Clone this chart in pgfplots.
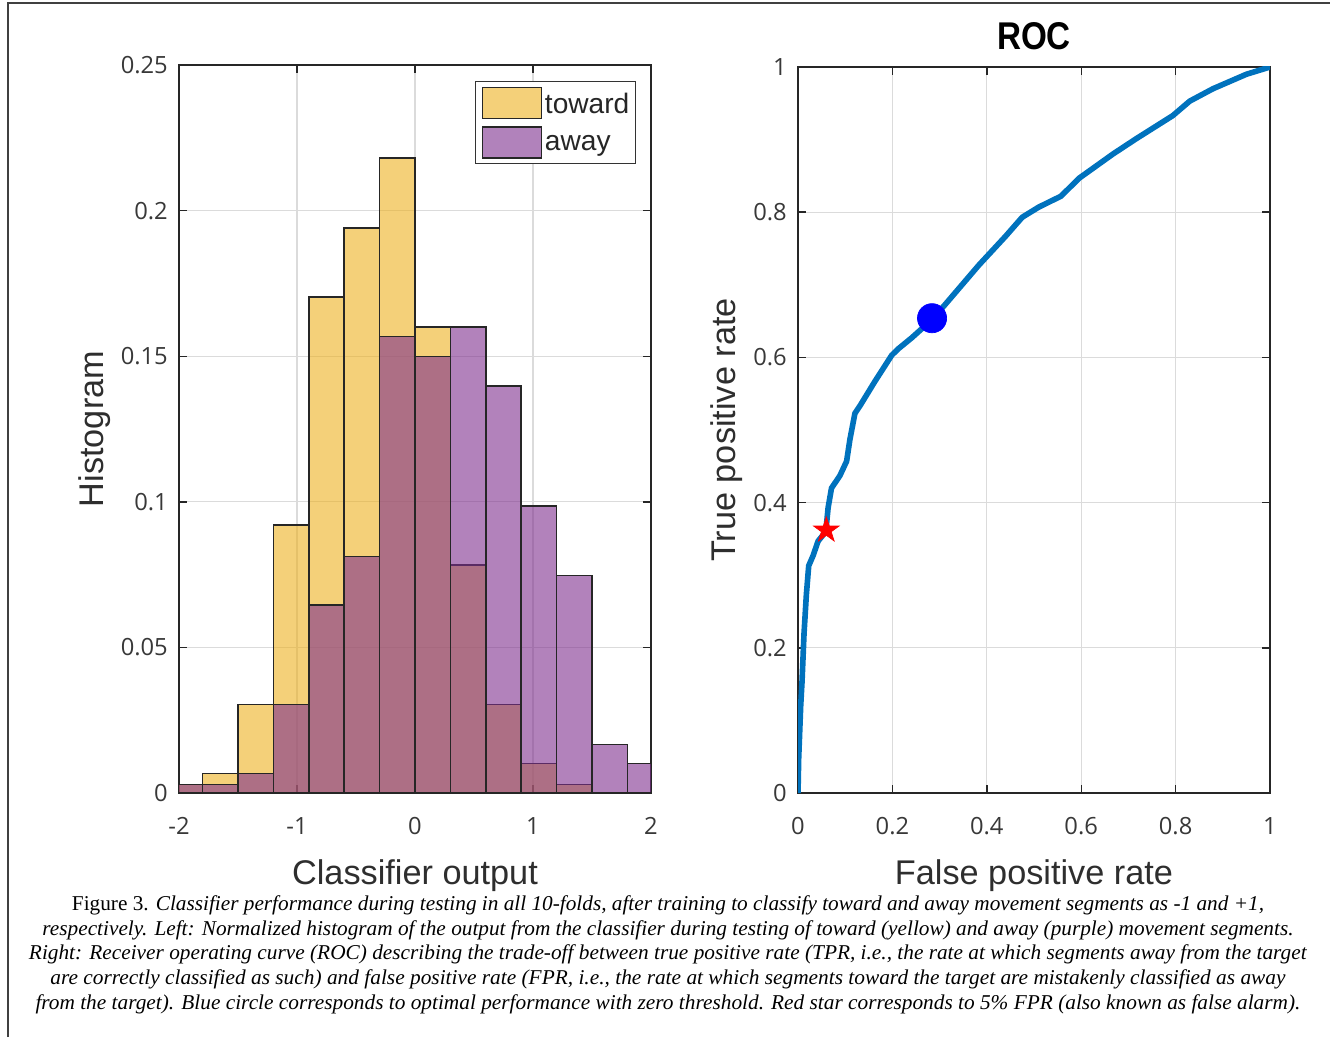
\documentclass[border=0pt]{standalone}
\usepackage{fontspec}
\setmainfont{Liberation Sans}
\newfontfamily\tickfont{Open Sans}
\newfontfamily\capfont{Liberation Serif}
\usepackage{graphicx}
\usepackage{pgfplots}
\pgfplotsset{compat=1.18}

\definecolor{ylw}{RGB}{237,177,32}
\definecolor{prp}{RGB}{126,47,142}
\definecolor{mblue}{RGB}{0,114,189}

% filled five-pointed star
\pgfdeclareplotmark{fivestar}{%
  \pgfpathmoveto{\pgfpointpolar{90}{\pgfplotmarksize}}%
  \pgfpathlineto{\pgfpointpolar{126}{0.382\pgfplotmarksize}}%
  \pgfpathlineto{\pgfpointpolar{162}{\pgfplotmarksize}}%
  \pgfpathlineto{\pgfpointpolar{198}{0.382\pgfplotmarksize}}%
  \pgfpathlineto{\pgfpointpolar{234}{\pgfplotmarksize}}%
  \pgfpathlineto{\pgfpointpolar{270}{0.382\pgfplotmarksize}}%
  \pgfpathlineto{\pgfpointpolar{306}{\pgfplotmarksize}}%
  \pgfpathlineto{\pgfpointpolar{342}{0.382\pgfplotmarksize}}%
  \pgfpathlineto{\pgfpointpolar{18}{\pgfplotmarksize}}%
  \pgfpathlineto{\pgfpointpolar{54}{0.382\pgfplotmarksize}}%
  \pgfpathclose
  \pgfusepathqfillstroke
}

\pgfplotsset{
  mat/.style={
    scale only axis,
    axis line style={black!85, line width=0.8pt},
    tick style={black!85, line width=0.8pt},
    major tick length=1.6mm,
    tick align=inside,
    grid=major,
    major grid style={black!14, line width=0.6pt},
    tick label style={font=\tickfont\fontsize{13.5}{16}\selectfont, text=black!78},
    xticklabel style={yshift=-3.6mm},
    yticklabel style={xshift=-1mm},
    label style={font=\fontsize{19.5}{22}\selectfont, text=black!82},
  }
}

\begin{document}
\begin{tikzpicture}
\useasboundingbox (0,0) rectangle (266mm,207.4mm);
\draw[black!75, line width=0.4mm] (1.6mm,0) -- (1.6mm,206.8mm) -- (266mm,206.8mm);

% ---- left: histogram
\begin{axis}[mat,
  at={(35.8mm,48.8mm)}, anchor=south west,
  width=94.4mm, height=145.6mm,
  xmin=-2, xmax=2, ymin=0, ymax=0.25,
  xtick={-2,-1,0,1,2}, xticklabels={-2,-1,0,1,2},
  ytick={0,0.05,0.1,0.15,0.2,0.25}, yticklabels={0,0.05,0.1,0.15,0.2,0.25},
  xlabel={Classifier output},
  xlabel style={at={(axis description cs:0.5,0)}, anchor=base, yshift=-18.2mm},
  ylabel={Histogram},
  ylabel style={at={(axis description cs:-0.161,0.5)}, anchor=base},
  legend image code/.code={\draw[#1] (0mm,-2.7mm) rectangle (11.8mm,3.5mm);},
  legend style={at={(axis description cs:0.968,0.978)}, anchor=north east,
    draw=black!80, line width=0.6pt, fill=white,
    inner xsep=1.2mm, inner ysep=1.0mm,
    nodes={inner sep=0pt, text=black!85},
    font=\fontsize{16}{18}\selectfont,
    row sep=1.5mm, column sep=0.6mm},
  legend cell align=left,
]
\addplot[ybar, bar width=0.3, bar shift=0pt, fill=ylw, fill opacity=0.6,
  draw=black!85, line width=0.8pt] coordinates {
  (-1.95,0.0029) (-1.65,0.0067) (-1.35,0.0304) (-1.05,0.0920)
  (-0.75,0.1703) (-0.45,0.1940) (-0.15,0.2180) (0.15,0.1600)
  (0.45,0.0783) (0.75,0.0304) (1.05,0.0101) (1.35,0.0029)
};
\addlegendentry{toward}
\addplot[ybar, bar width=0.3, bar shift=0pt, fill=prp, fill opacity=0.6,
  draw=black!85, line width=0.8pt] coordinates {
  (-1.95,0.0029) (-1.65,0.0029) (-1.35,0.0067) (-1.05,0.0304)
  (-0.75,0.0645) (-0.45,0.0812) (-0.15,0.1567) (0.15,0.1500)
  (0.45,0.1600) (0.75,0.1397) (1.05,0.0986) (1.35,0.0746)
  (1.65,0.0167) (1.95,0.0101)
};
\addlegendentry{away}
\end{axis}

% ---- right: ROC
\begin{axis}[mat,
  at={(159.6mm,48.8mm)}, anchor=south west,
  width=94.4mm, height=145.2mm,
  xmin=0, xmax=1, ymin=0, ymax=1,
  xtick={0,0.2,0.4,0.6,0.8,1}, xticklabels={0,0.2,0.4,0.6,0.8,1},
  ytick={0,0.2,0.4,0.6,0.8,1}, yticklabels={0,0.2,0.4,0.6,0.8,1},
  xlabel={False positive rate},
  xlabel style={at={(axis description cs:0.5,0)}, anchor=base, yshift=-18.2mm},
  ylabel={True positive rate},
  ylabel style={at={(axis description cs:-0.133,0.5)}, anchor=base},
  title={\scalebox{0.86}[1]{\bfseries\fontsize{22}{24}\selectfont ROC}},
  title style={at={(axis description cs:0.5,1)}, anchor=base, yshift=1.4mm, text=black},
]
\addplot[mblue, line width=3.2pt, line join=round] coordinates {
  (0,0) (0.0014,0.047) (0.0057,0.12) (0.0085,0.153) (0.0128,0.22)
  (0.0177,0.273) (0.0227,0.313) (0.032,0.327) (0.0426,0.347) (0.0589,0.36)
  (0.0638,0.393) (0.071,0.42) (0.0887,0.437) (0.103,0.457) (0.110,0.487)
  (0.1206,0.523) (0.131,0.533) (0.163,0.567) (0.1986,0.603) (0.2128,0.612)
  (0.241,0.627) (0.282,0.651) (0.312,0.673) (0.383,0.727) (0.44,0.767)
  (0.475,0.793) (0.51,0.807) (0.557,0.822) (0.596,0.847) (0.667,0.88)
  (0.716,0.901) (0.794,0.933) (0.83,0.953) (0.879,0.97) (0.95,0.99) (1,1)
};
\addplot[only marks, mark=*, mark size=8.3pt, blue] coordinates {(0.284,0.654)};
\addplot[only marks, mark=fivestar, mark size=7.6pt, red, fill=red] coordinates {(0.060,0.362)};
\end{axis}

% ---- caption
\begin{scope}[every node/.style={anchor=base, inner sep=0pt, font=\capfont\fontsize{12}{14}\selectfont}]
\node at (133.6mm,25.4mm) {\resizebox{238.4mm}{\height}{Figure 3. \textit{Classifier performance during testing in all 10-folds, after training to classify toward and away movement segments as -1 and +1,}}};
\node at (133.6mm,20.4mm) {\resizebox{250.2mm}{\height}{\textit{respectively. Left: Normalized histogram of the output from the classifier during testing of toward (yellow) and away (purple) movement segments.}}};
\node at (133.6mm,15.5mm) {\resizebox{255.6mm}{\height}{\textit{Right: Receiver operating curve (ROC) describing the trade-off between true positive rate (TPR, i.e., the rate at which segments away from the target}}};
\node at (133.6mm,10.6mm) {\resizebox{247mm}{\height}{\textit{are correctly classified as such) and false positive rate (FPR, i.e., the rate at which segments toward the target are mistakenly classified as away}}};
\node at (133.6mm,5.6mm) {\resizebox{253mm}{\height}{\textit{from the target). Blue circle corresponds to optimal performance with zero threshold. Red star corresponds to 5\% FPR (also known as false alarm).}}};
\end{scope}
\end{tikzpicture}
\end{document}
